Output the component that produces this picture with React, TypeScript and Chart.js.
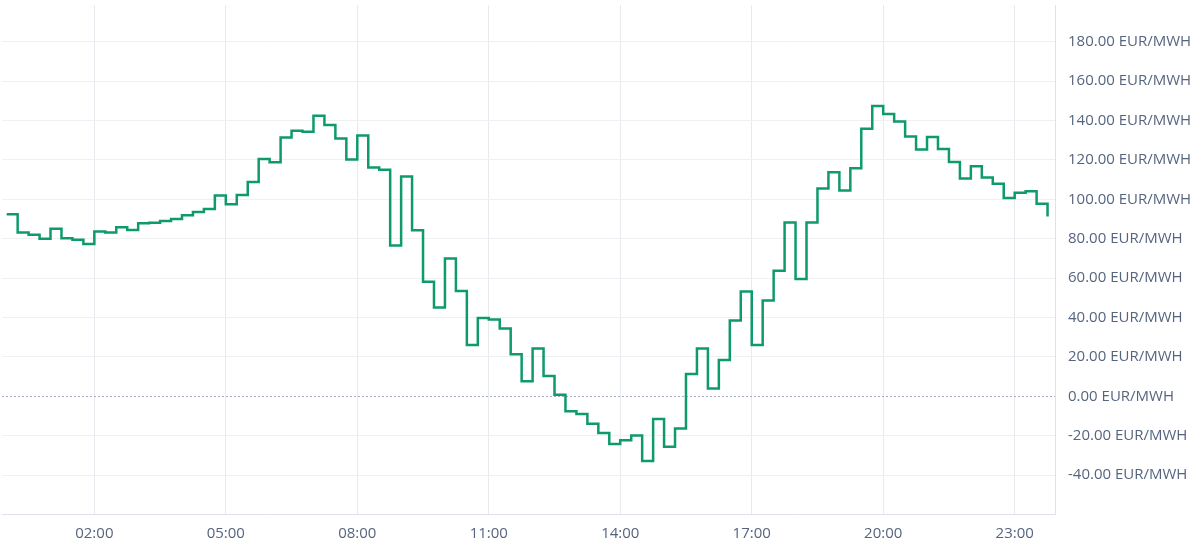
import React, { useEffect, useRef } from "react";
import { Chart, registerables } from "chart.js";

Chart.register(...registerables);

// Day-ahead price per quarter hour (00:00 … 23:45), EUR/MWh
const prices: number[] = [
  92.4, 83.2, 82.0, 80.0, 85.1, 80.3, 79.5, 77.3,
  83.7, 83.1, 85.8, 84.4, 87.8, 88.1, 89.0, 90.0,
  91.9, 93.6, 95.1, 102.0, 97.5, 102.2, 108.8, 120.5,
  118.9, 131.4, 134.9, 134.3, 142.5, 137.8, 130.9, 120.2,
  132.4, 116.2, 115.0, 76.5, 111.6, 84.3, 58.2, 45.1,
  69.9, 53.5, 26.0, 39.8, 39.0, 34.4, 21.3, 7.6,
  24.2, 10.3, 0.8, -7.6, -9.0, -14.0, -18.6, -24.3,
  -22.3, -19.9, -32.9, -11.5, -25.7, -16.4, 11.3, 24.2,
  3.9, 18.4, 38.5, 53.2, 26.0, 48.6, 63.7, 88.2,
  59.5, 88.2, 105.5, 113.8, 104.5, 115.8, 135.9, 147.4,
  143.4, 139.5, 131.9, 125.3, 131.7, 125.6, 119.0, 110.6,
  116.8, 111.1, 107.9, 100.7, 103.3, 104.1, 97.7, 91.3,
];

// Slot start times in hours for each quarter hour
const slotHours: number[] = prices.map((_, i) => i / 4);

// Hour ticks shown on the x axis
const xTickHours: number[] = [2, 5, 8, 11, 14, 17, 20, 23];

const FONT = "'Open Sans', 'Noto Sans', sans-serif";
const TICK_COLOR = "#56657f";
const GRID_H = "#eff0f4";
const GRID_V = "#e8eaf0";
const LINE_COLOR = "#0f9a6a";

const zeroLinePlugin = {
  id: "zeroLine",
  beforeDatasetsDraw(chart: any) {
    const y = chart.scales.y;
    const { left, right } = chart.chartArea;
    const py = Math.round(y.getPixelForValue(0)) + 0.5;
    const ctx = chart.ctx;
    ctx.save();
    ctx.strokeStyle = "#a3a9c2";
    ctx.lineWidth = 1;
    ctx.setLineDash([2, 2]);
    ctx.beginPath();
    ctx.moveTo(left, py);
    ctx.lineTo(right, py);
    ctx.stroke();
    ctx.restore();
  },
};

export default function App() {
  const ref = useRef<HTMLCanvasElement | null>(null);

  useEffect(() => {
    document.body.style.margin = "0";
    const canvas = ref.current;
    if (!canvas) return;
    const chart = new Chart(canvas, {
      type: "line",
      data: {
        datasets: [
          {
            data: prices.map((v, i) => ({ x: slotHours[i], y: v })),
            borderColor: LINE_COLOR,
            borderWidth: 2.5,
            stepped: true,
            pointRadius: 0,
            fill: false,
          },
        ],
      },
      plugins: [zeroLinePlugin],
      options: {
        animation: false,
        responsive: false,
        maintainAspectRatio: false,
        layout: { padding: { top: 5, left: 2, right: 0, bottom: 0 } },
        plugins: {
          legend: { display: false },
          tooltip: { enabled: false },
        },
        scales: {
          x: {
            type: "linear",
            min: -0.107,
            max: 23.92,
            afterBuildTicks: (axis: any) => {
              axis.ticks = xTickHours.map((v) => ({ value: v }));
            },
            afterFit: (axis: any) => {
              axis.height = 42;
              axis.paddingLeft = 0;
              axis.paddingRight = 0;
            },
            grid: { color: GRID_V, drawTicks: false },
            border: { display: true, color: "#dfe2ea" },
            ticks: {
              padding: 11,
              color: TICK_COLOR,
              font: { family: FONT, size: 15 },
              maxRotation: 0,
              autoSkip: false,
              callback: (v: any) => String(Math.round(Number(v))).padStart(2, "0") + ":00",
            },
          },
          y: {
            position: "right",
            min: -59.8,
            max: 198.7,
            afterFit: (axis: any) => {
              axis.width = 145;
              axis.paddingTop = 0;
              axis.paddingBottom = 0;
            },
            grid: {
              drawTicks: false,
              color: (c: any) => (c.tick && c.tick.value === 0 ? "rgba(0,0,0,0)" : GRID_H),
            },
            border: { display: true, color: "#dfe2ea" },
            ticks: {
              stepSize: 20,
              includeBounds: false,
              padding: 13,
              color: TICK_COLOR,
              font: { family: FONT, size: 15 },
              callback: (v: any) => Number(v).toFixed(2) + " EUR/MWH",
            },
          },
        },
      },
    });
    return () => chart.destroy();
  }, []);

  return (
    <div style={{ width: 1200, height: 556 }}>
      <canvas ref={ref} width={1200} height={556} style={{ display: "block" }} />
    </div>
  );
}
